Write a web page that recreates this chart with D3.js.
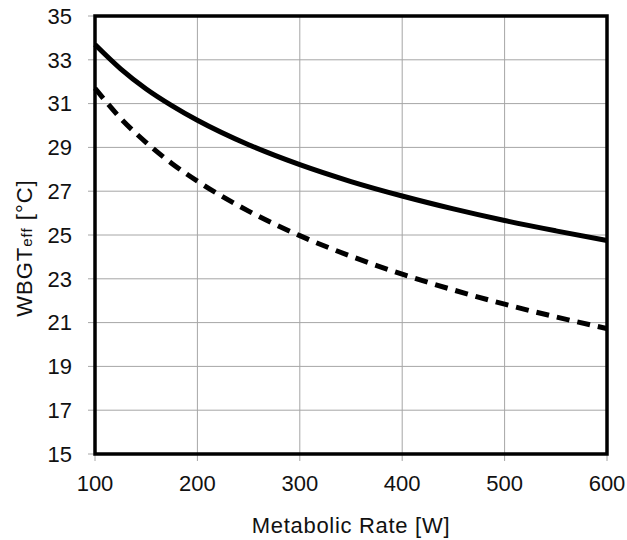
<!DOCTYPE html>
<html><head><meta charset="utf-8">
<script src="https://cdn.jsdelivr.net/npm/d3@7"></script>
<style>body{margin:0;background:#fff;}svg{display:block;}</style>
</head><body>
<svg id="c" width="627" height="540"></svg>
<script>
const metabolicRate = [100,125,150,175,200,250,300,350,400,450,500,550,600];
const tlvValues = [33.70,32.59,31.67,30.91,30.24,29.12,28.21,27.44,26.78,26.19,25.66,25.19,24.75];
const actionValues = [31.70,30.33,29.22,28.27,27.46,26.09,24.97,24.03,23.21,22.49,21.84,21.26,20.73];
const xTicks = [100,200,300,400,500,600];
const yTicks = [15,17,19,21,23,25,27,29,31,33,35];

const svg = d3.select("#c");
const L=95, R=607, T=16, B=454;
const x = d3.scaleLinear().domain([100,600]).range([L,R]);
const y = d3.scaleLinear().domain([15,35]).range([B,T]);
const font = "'Liberation Sans', Arial, sans-serif";

// grid
svg.append("g").selectAll("line").data(xTicks).join("line")
  .attr("x1",d=>x(d)).attr("x2",d=>x(d)).attr("y1",T).attr("y2",B+7)
  .attr("stroke","#a6a6a6").attr("stroke-width",1);
svg.append("g").selectAll("line").data(yTicks).join("line")
  .attr("x1",L-7).attr("x2",R).attr("y1",d=>y(d)).attr("y2",d=>y(d))
  .attr("stroke","#a6a6a6").attr("stroke-width",1);

// tick labels
svg.append("g").selectAll("text").data(yTicks).join("text")
  .attr("x",72).attr("y",d=>y(d)).attr("dy","0.35em").attr("text-anchor","end")
  .attr("font-family",font).attr("font-size",22).attr("fill","#111").text(d=>d);
svg.append("g").selectAll("text").data(xTicks).join("text")
  .attr("x",d=>x(d)).attr("y",491).attr("text-anchor","middle")
  .attr("font-family",font).attr("font-size",22).attr("fill","#111").text(d=>d);

// axis titles
svg.append("text").attr("x",(L+R)/2).attr("y",533).attr("text-anchor","middle")
  .attr("font-family",font).attr("font-size",22).attr("letter-spacing",0.7).attr("fill","#111").text("Metabolic Rate [W]");
const yt = svg.append("text").attr("transform",`translate(32,248) rotate(-90)`)
  .attr("text-anchor","middle").attr("font-family",font).attr("font-size",22)
  .attr("letter-spacing",1).attr("fill","#111");
yt.append("tspan").text("WBGT");
yt.append("tspan").attr("font-size",15).attr("dy",0).text("eff");
yt.append("tspan").attr("dy",0).text(" [°C]");

// lines
const line = d3.line().x((d,i)=>x(metabolicRate[i])).y(d=>y(d)).curve(d3.curveMonotoneX);
svg.append("path").attr("d",line(tlvValues)).attr("fill","none").attr("stroke","#000").attr("stroke-width",5);
svg.append("path").attr("d",line(actionValues)).attr("fill","none").attr("stroke","#000").attr("stroke-width",5)
  .attr("stroke-dasharray","13,8");

// frame
svg.append("rect").attr("x",L).attr("y",T).attr("width",R-L).attr("height",B-T)
  .attr("fill","none").attr("stroke","#000").attr("stroke-width",3.5);
</script>
</body></html>
